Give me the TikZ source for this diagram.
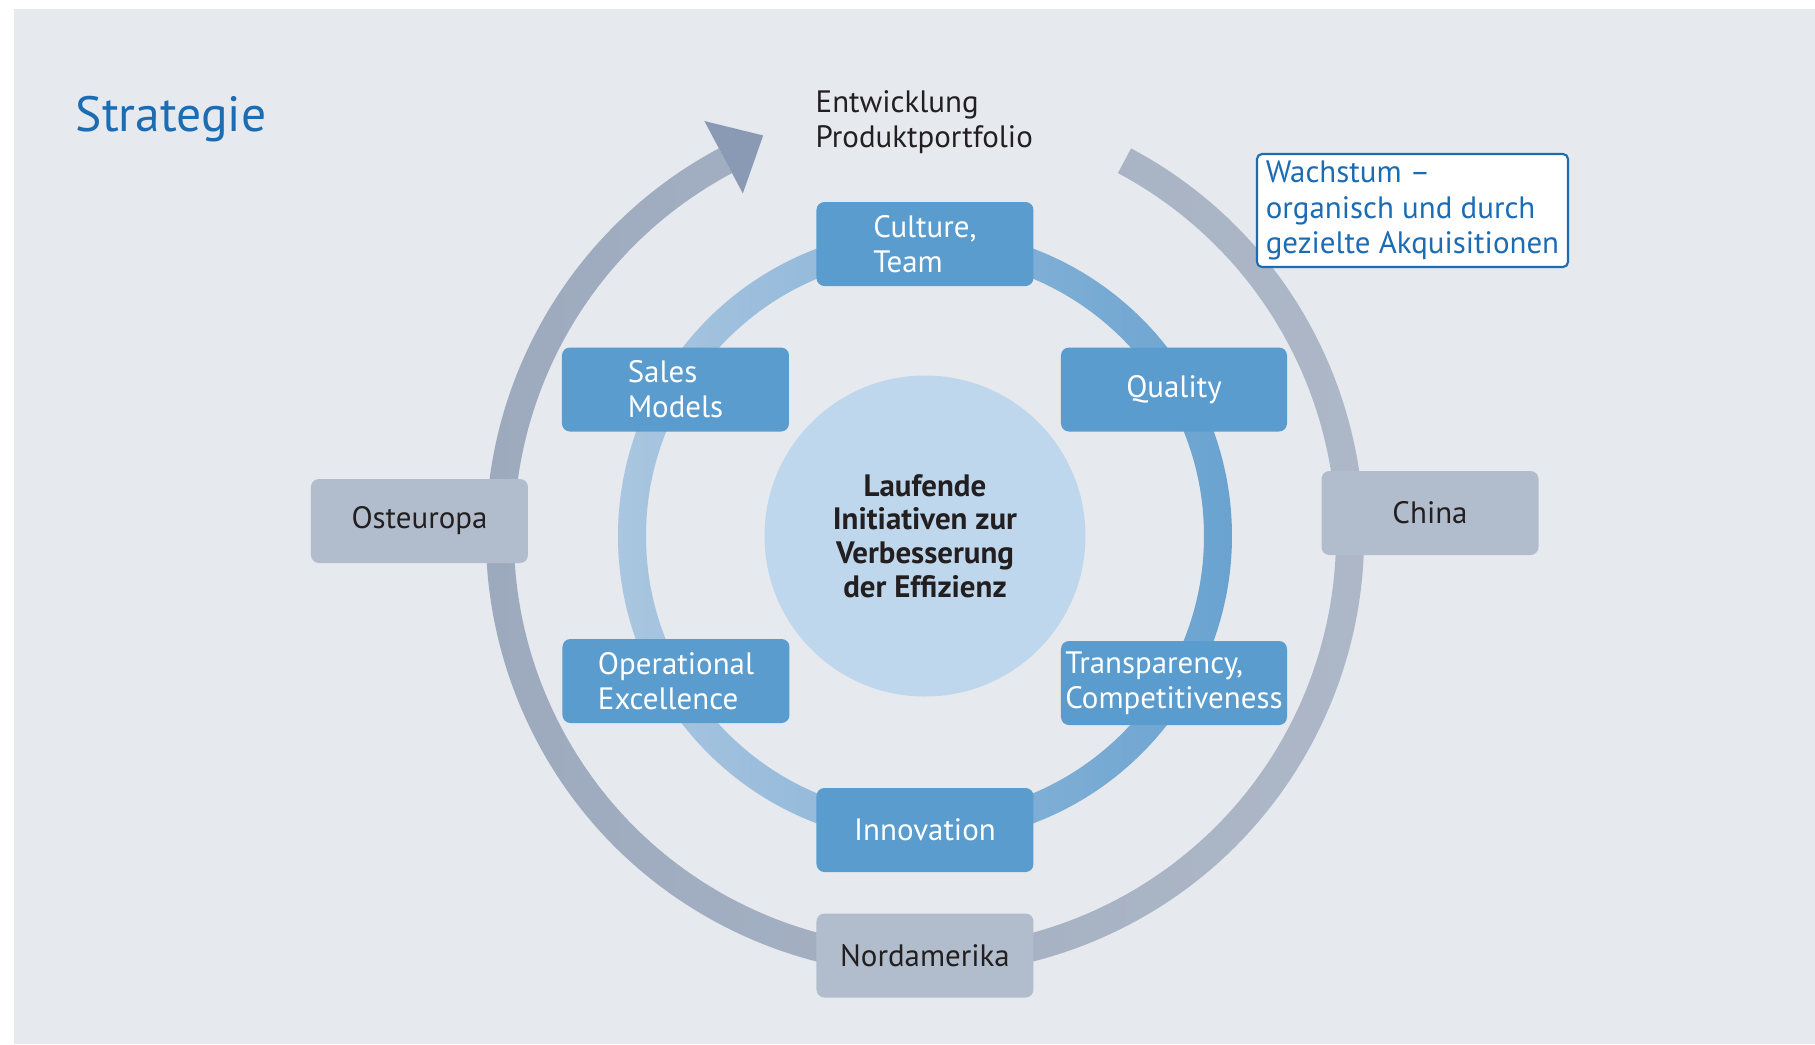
\documentclass[tikz,border=0pt]{standalone}
\usepackage{fontspec}
\setmainfont{PT Sans}
\definecolor{bgcolor}{RGB}{230,233,238}
\definecolor{boxblue}{RGB}{90,156,206}
\definecolor{boxgray}{RGB}{177,189,204}
\definecolor{corefill}{RGB}{190,215,236}
\definecolor{titleblue}{RGB}{28,108,180}
\definecolor{textdark}{RGB}{35,31,32}
\definecolor{outerleft}{RGB}{156,169,189}
\definecolor{outerright}{RGB}{174,184,200}
\definecolor{arrowtip}{RGB}{138,154,180}
\definecolor{innerleft}{RGB}{170,198,224}
\definecolor{innerright}{RGB}{106,163,208}
\begin{document}
\begin{tikzpicture}[
    font=\fontsize{8.8}{10}\selectfont,
    bluebox/.style={fill=boxblue, text=white, rounded corners=0.08cm, minimum width=2.17cm, minimum height=0.84cm, inner sep=1pt, align=left},
    regionbox/.style={fill=boxgray, text=textdark, rounded corners=0.08cm, minimum width=2.17cm, minimum height=0.84cm, inner sep=1pt, align=center},
    label/.style={inner sep=0pt, align=left}]
    \useasboundingbox (-9.25,-5.08) rectangle (8.90,5.36);
    \fill[bgcolor] (-9.11,-5.08) rectangle (8.90,5.27);
    % outer ring with arrow
    \shade[left color=outerleft, right color=outerright] (62:4.39) arc[start angle=62, end angle=-242, radius=4.39] -- (-242:4.11) arc[start angle=-242, end angle=62, radius=4.11] -- cycle;
    \fill[arrowtip] (118:3.88) -- (112:4.32) -- (118:4.70) -- cycle;
    % inner ring
    \shade[even odd rule, left color=innerleft, right color=innerright] (0,0) circle (3.07) (0,0) circle (2.79);
    \node[circle, fill=corefill, minimum size=3.21cm, inner sep=0pt, align=center, text=textdark, font=\fontsize{8.8}{9.6}\selectfont\bfseries] (core) at (0,0) {Laufende\\Initiativen zur\\Verbesserung\\der Effizienz};
    \node[bluebox] (culture) at (0,2.92) {Culture,\\Team};
    \node[bluebox, minimum width=2.27cm] (sales) at (-2.495,1.465) {Sales\\Models};
    \node[bluebox, minimum width=2.26cm] (quality) at (2.49,1.465) {Quality};
    \node[bluebox, minimum width=2.27cm] (operational) at (-2.49,-1.45) {Operational\\Excellence};
    \node[bluebox, minimum width=2.26cm] (transparency) at (2.49,-1.47) {Transparency,\\Competitiveness};
    \node[bluebox] (innovation) at (0,-2.94) {Innovation};
    \node[regionbox] (osteuropa) at (-5.055,0.15) {Osteuropa};
    \node[regionbox] (china) at (5.05,0.23) {China};
    \node[regionbox] (nordamerika) at (0,-4.195) {Nordamerika};
    \node[draw=titleblue, fill=white, text=titleblue, rounded corners=0.05cm, line width=0.6pt, minimum width=3.11cm, minimum height=1.13cm, inner sep=1pt, align=left] (wachstum) at (4.875,3.255) {Wachstum --\\organisch und durch\\gezielte Akquisitionen};
    \node[label, anchor=west, text=textdark] (entwicklung) at (-1.10,4.14) {Entwicklung\\Produktportfolio};
    \node[label, anchor=base west, text=titleblue, font=\fontsize{14.1}{16}\selectfont] (title) at (-8.50,4.05) {Strategie};
\end{tikzpicture}
\end{document}
